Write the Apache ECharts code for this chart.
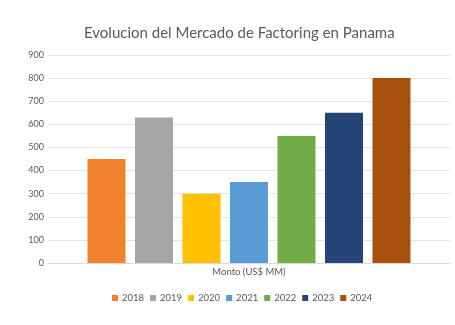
<!DOCTYPE html>
<html><head><meta charset="utf-8">
<script src="https://cdn.jsdelivr.net/npm/echarts@6/dist/echarts.min.js"></script>
<style>html,body{margin:0;padding:0;background:#fff}#c{width:455px;height:325px}</style>
</head><body><div id="c"></div>
<script>
const categories = ['Monto (US$ MM)'];
const years = ['2018','2019','2020','2021','2022','2023','2024'];
const values = [450, 630, 300, 350, 550, 650, 800];
const colors = ['#F0822D','#A5A5A5','#FFC000','#5B9BD5','#70AD47','#264478','#A9500F'];
const yTicks = [0, 900, 100];

const chart = echarts.init(document.getElementById('c'), null, {renderer:'canvas'});
chart.setOption({
  animation:false,
  textStyle:{fontFamily:'Lato'},
  title:{text:'Evolucion del Mercado de Factoring en Panama', left:79, top:21,
    textStyle:{fontFamily:'Lato', fontSize:15, fontWeight:'normal', color:'#595959'}},
  legend:{data:years, top:288, left:107, itemWidth:6, itemHeight:6, itemGap:6, icon:'rect',
    textStyle:{fontFamily:'Lato', fontSize:9.5, color:'#595959', padding:[0,0,0,-1]}},
  grid:{left:48, right:5, top:55, bottom:62},
  xAxis:{type:'category', data:categories,
    axisLine:{lineStyle:{color:'#d9d9d9'}}, axisTick:{show:false},
    axisLabel:{fontFamily:'Lato', fontSize:9.5, color:'#595959', margin:4}},
  yAxis:{type:'value', min:yTicks[0], max:yTicks[1], interval:yTicks[2],
    axisLine:{show:false}, axisTick:{show:false},
    axisLabel:{fontFamily:'Lato', fontSize:9, color:'#595959', margin:4},
    splitLine:{lineStyle:{color:'#e3e3e3'}}},
  series: years.map((y,i)=>({name:y, type:'bar', data:[values[i]], barWidth:38, barGap:'25%',
    itemStyle:{color:colors[i]}}))
});
</script></body></html>
